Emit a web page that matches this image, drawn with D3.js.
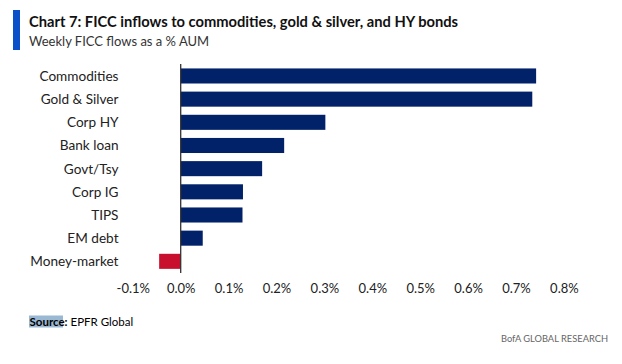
<!DOCTYPE html>
<html><head><meta charset="utf-8">
<script src="https://cdn.jsdelivr.net/npm/d3@7"></script>
<style>body{margin:0;background:#fff}text{font-family:Lato,"Open Sans",sans-serif}</style>
</head><body>
<svg id="c" width="622" height="364"></svg>
<script>
const categories = ["Commodities","Gold & Silver","Corp HY","Bank loan","Govt/Tsy","Corp IG","TIPS","EM debt","Money-market"];
const values = [0.742, 0.734, 0.302, 0.216, 0.170, 0.130, 0.129, 0.046, -0.045];
const tickValues = [-0.1,0,0.1,0.2,0.3,0.4,0.5,0.6,0.7,0.8];

const svg = d3.select("#c");
const x = d3.scaleLinear().domain([-0.1,0.8]).range([132.8,563.9]);
const y = d3.scaleBand().domain(categories).range([64.5,272.8]).paddingInner(0.35).paddingOuter(0.17);

// header
svg.append("rect").attr("x",13).attr("y",10).attr("width",7).attr("height",40).attr("fill","#0a50c8");
svg.append("text").attr("x",29).attr("y",27).attr("font-size",14.7).attr("font-weight","bold").attr("fill","#111")
  .text("Chart 7: FICC inflows to commodities, gold & silver, and HY bonds");
svg.append("text").attr("x",29).attr("y",46).attr("font-size",13).attr("fill","#333")
  .text("Weekly FICC flows as a % AUM");

// bars
svg.selectAll("rect.bar").data(categories).join("rect").attr("class","bar")
  .attr("x",(d,i)=>x(Math.min(0,values[i])))
  .attr("width",(d,i)=>Math.abs(x(values[i])-x(0)))
  .attr("y",d=>y(d)).attr("height",y.bandwidth())
  .attr("fill",(d,i)=>values[i]<0?"#c8102e":"#012169");

// zero axis line
svg.append("line").attr("x1",x(0)).attr("x2",x(0)).attr("y1",64).attr("y2",273)
  .attr("stroke","#333").attr("stroke-width",1.3);

// category labels
svg.selectAll("text.cat").data(categories).join("text").attr("class","cat")
  .attr("x",118.5).attr("y",d=>y(d)+y.bandwidth()/2).attr("dy","0.36em")
  .attr("text-anchor","end").attr("font-size",13.6).attr("fill","#222").text(d=>d);

// x axis
const xAxis = d3.axisBottom(x).tickValues(tickValues).tickSize(0).tickPadding(0)
  .tickFormat(d=>d3.format(".1f")(d).replace("\u2212","-")+"%");
const gx = svg.append("g").attr("transform","translate(0,284)").call(xAxis);
gx.select(".domain").remove();
gx.selectAll("text").attr("font-size",13).attr("fill","#222").attr("font-family","Lato,sans-serif");

// footer
svg.append("rect").attr("x",29).attr("y",315.5).attr("width",34).attr("height",12).attr("fill","#9bb8d3");
svg.append("text").attr("x",29.5).attr("y",325.5).attr("font-size",11.5).attr("fill","#000")
  .html('<tspan font-weight="bold">Source:</tspan> EPFR Global');
svg.append("text").attr("x",608).attr("y",342).attr("text-anchor","end").attr("font-size",9.3).attr("fill","#666")
  .text("BofA GLOBAL RESEARCH");
</script>
</body></html>
